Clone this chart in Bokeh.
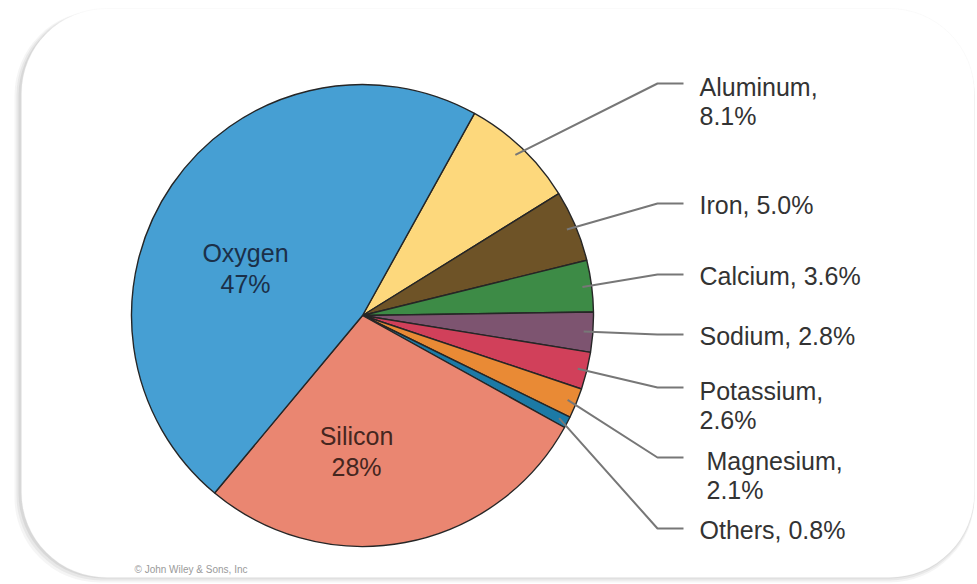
import math
from bokeh.plotting import figure
from bokeh.models import Range1d, BoxAnnotation, ColumnDataSource
from bokeh.core.properties import value
from bokeh.embed import file_html
from bokeh.resources import INLINE

# ---- data (clockwise order starting at the Aluminum/Oxygen boundary) ----
elements = ["Aluminum", "Iron", "Calcium", "Sodium", "Potassium",
            "Magnesium", "Others", "Silicon", "Oxygen"]
percent = [8.1, 5.0, 3.6, 2.8, 2.6, 2.1, 0.8, 28, 47]
colors = ["#fdd87c", "#6e5327", "#3d8b46", "#7d5470", "#d1405a",
          "#e98a35", "#1c7aa6", "#ea8671", "#469fd3"]
credit = "\u00a9 John Wiley & Sons, Inc"

# ---- layout ----
W, H = 977, 584
CX, CY, R = 362, H - 315, 231
START_DEG = 61.0
FONT = value("Liberation Sans")

p = figure(width=W, height=H, x_range=Range1d(0, W), y_range=Range1d(0, H),
           output_backend="svg", toolbar_location=None, min_border=0)
p.axis.visible = False
p.grid.visible = False
p.outline_line_color = None
p.background_fill_color = "white"
p.border_fill_color = "white"

# card with soft shadow
for off, a in [(7, 0.10), (5, 0.14), (3, 0.2)]:
    p.add_layout(BoxAnnotation(left=21 - off, right=974, bottom=H - 577 - off + 2, top=H - 8 - 2,
                               border_radius=85, fill_color="#9a9a9a", fill_alpha=a,
                               line_color=None, level="underlay"))
p.add_layout(BoxAnnotation(left=21, right=974, bottom=H - 577, top=H - 8,
                           border_radius=85, fill_color="white", fill_alpha=1.0,
                           line_color="#ededed", line_width=1, level="underlay"))

# wedges
total = sum(percent)
starts, ends, mids = [], [], []
cum = 0.0
for v in percent:
    a0 = START_DEG - cum / total * 360.0
    cum += v
    a1 = START_DEG - cum / total * 360.0
    starts.append(math.radians(a0))
    ends.append(math.radians(a1))
    mids.append(math.radians((a0 + a1) / 2))

src = ColumnDataSource(dict(start=starts, end=ends, color=colors))
p.wedge(x=CX, y=CY, radius=R, start_angle="start", end_angle="end",
        direction="clock", fill_color="color", line_color="#262626",
        line_width=1.4, source=src)

# leader lines and labels for small slices
label_y = [83, 203, 274, 334, 387, 457, 528]        # elbow pixel rows
text_x = [699, 699, 699, 699, 699, 706, 699]
two_line = [True, False, False, False, True, True, False]
ELBOW_X, END_X = 657, 683

tx, ty, tt = [], [], []
for i in range(7):
    m = mids[i]
    sx = CX + 0.96 * R * math.cos(m)
    sy = CY + 0.96 * R * math.sin(m)
    ey = H - label_y[i]
    p.line([sx, ELBOW_X, END_X], [sy, ey, ey], line_color="#777777", line_width=2)
    name, pct = elements[i], percent[i]
    if two_line[i]:
        tx += [text_x[i], text_x[i]]
        ty += [ey - 3, ey - 32]
        tt += [f"{name},", f"{pct:.1f}%"]
    else:
        tx.append(text_x[i])
        ty.append(ey - 1)
        tt.append(f"{name}, {pct:.1f}%")

p.text(x=tx, y=ty, text=tt, text_font=FONT, text_font_size="25px",
       text_color="#333333", text_baseline="middle", text_align="left")

# big slice labels
big = [(8, 245, 252, 283, "#1b3049"), (7, 356, 435, 466, "#45261f")]
for idx, x, y1, y2, c in big:
    p.text(x=[x, x], y=[H - y1, H - y2],
           text=[elements[idx], f"{percent[idx]:g}%"],
           text_font=FONT, text_font_size="25px", text_color=c,
           text_baseline="middle", text_align="center")

p.text(x=[134], y=[H - 569], text=[credit], text_font=FONT, text_font_size="10px",
       text_color="#9a9a9a", text_baseline="middle", text_align="left")

open("out.html", "w").write(file_html(p, INLINE))
